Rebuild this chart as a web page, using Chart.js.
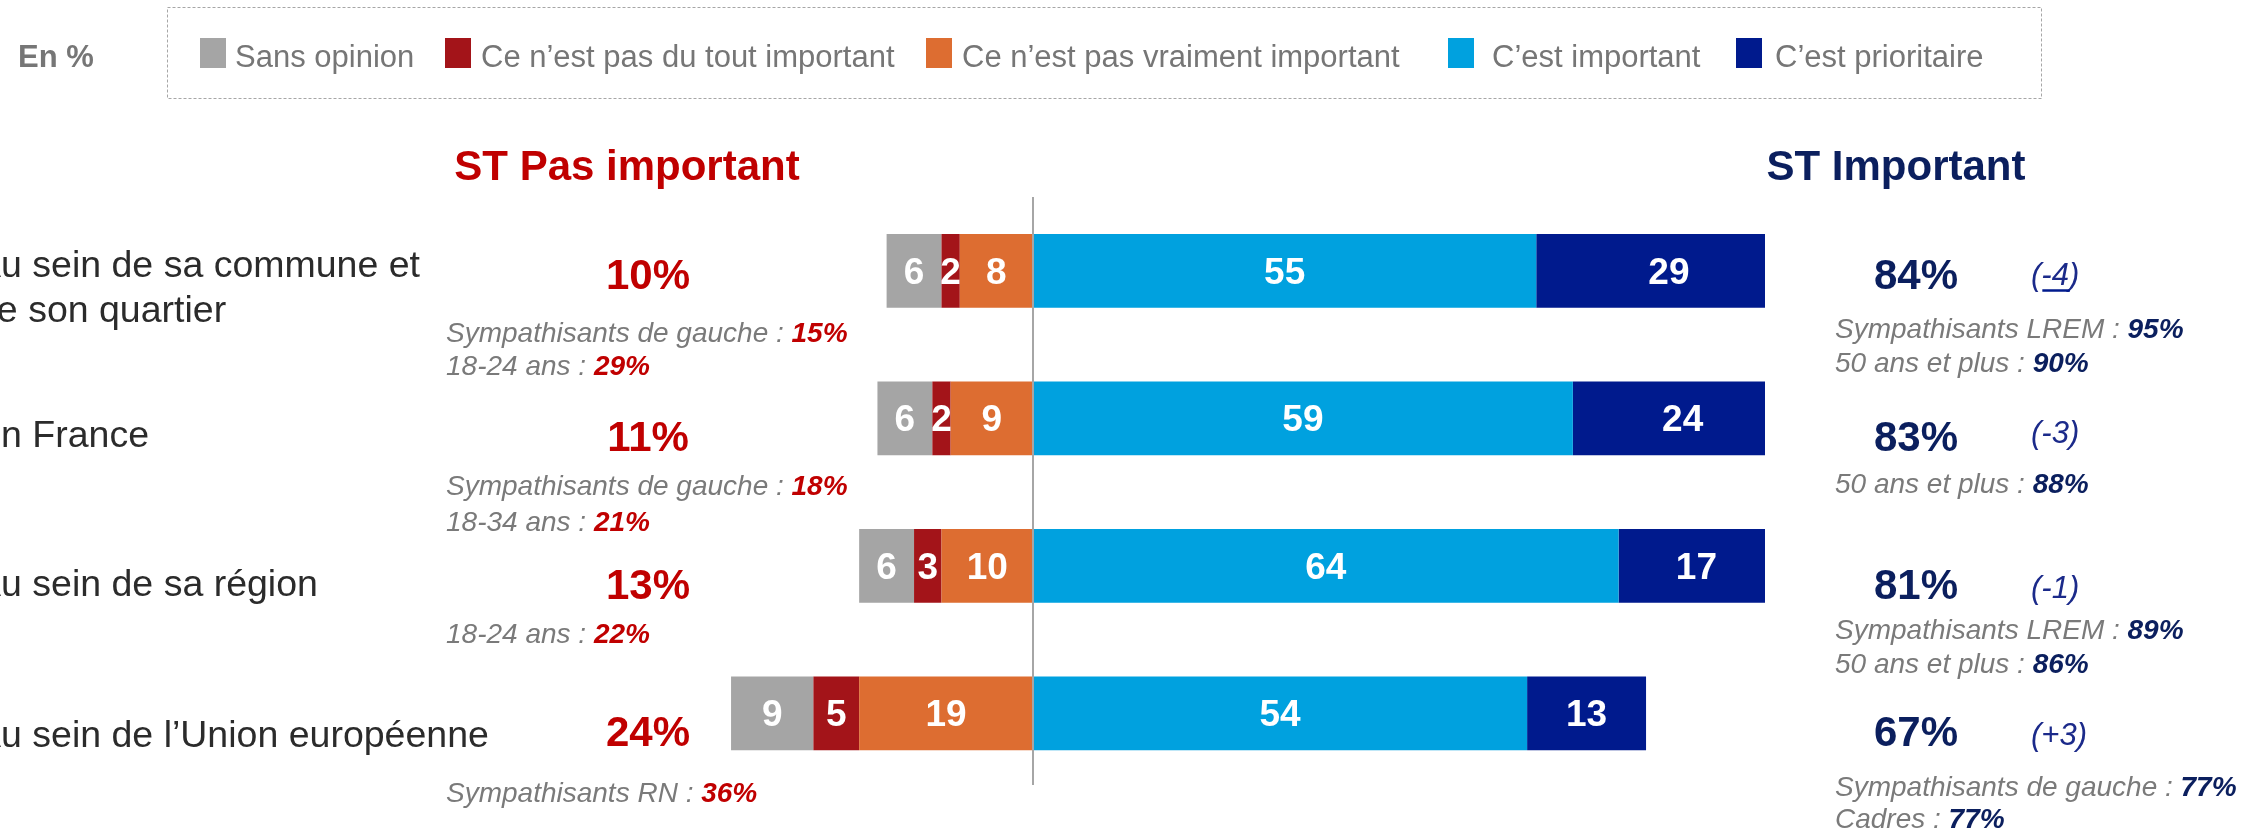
<!DOCTYPE html>
<html lang="fr">
<head>
<meta charset="utf-8">
<title>Importance accordée selon l’échelon</title>
<script src="https://cdn.jsdelivr.net/npm/chart.js@4.4.1/dist/chart.umd.min.js"></script>
<style>
  html, body { margin: 0; padding: 0; background: #ffffff; }
  canvas { display: block; }
</style>
</head>
<body>
<canvas id="chart" width="2265" height="833"></canvas>
<script>
// ---- Données (en %) ----
const categories = [
  ["Au sein de sa commune et", "de son quartier"],
  ["En France"],
  ["Au sein de sa région"],
  ["Au sein de l’Union européenne"]
];
const sansOpinion   = [6, 6, 6, 9];
const pasDuTout     = [2, 2, 3, 5];
const pasVraiment   = [8, 9, 10, 19];
const important     = [55, 59, 64, 54];
const prioritaire   = [29, 24, 17, 13];
const stPasImportant = [10, 11, 13, 24];
const stImportant    = [84, 83, 81, 67];
const evolution      = ["-4", "-3", "-1", "+3"];
const sousGroupesPasImportant = [
  [["Sympathisants de gauche", 15], ["18-24 ans", 29]],
  [["Sympathisants de gauche", 18], ["18-34 ans", 21]],
  [["18-24 ans", 22]],
  [["Sympathisants RN", 36]]
];
const sousGroupesImportant = [
  [["Sympathisants LREM", 95], ["50 ans et plus", 90]],
  [["50 ans et plus", 88]],
  [["Sympathisants LREM", 89], ["50 ans et plus", 86]],
  [["Sympathisants de gauche", 77], ["Cadres", 77]]
];
const seriesNames = ["Sans opinion", "Ce n’est pas du tout important", "Ce n’est pas vraiment important", "C’est important", "C’est prioritaire"];

// ---- Styles ----
const FONT = '"Liberation Sans", Arial, Helvetica, sans-serif';
const COLORS = {
  sans: '#A5A5A5', pasDuTout: '#A31419', pasVraiment: '#DD6D31',
  important: '#00A1DF', prioritaire: '#001A8D',
  red: '#C00000', navy: '#0B1F5E', evol: '#1B2A8A',
  grey: '#7A7A7A', label: '#2B2B2B', axis: '#A6A6A6'
};

// Negative values stack outward from zero in dataset order:
// "pas vraiment" sits next to the axis, "sans opinion" on the far left.
const datasets = [
  { label: seriesNames[2], data: pasVraiment.map(v => -v), backgroundColor: COLORS.pasVraiment },
  { label: seriesNames[1], data: pasDuTout.map(v => -v),   backgroundColor: COLORS.pasDuTout },
  { label: seriesNames[0], data: sansOpinion.map(v => -v), backgroundColor: COLORS.sans },
  { label: seriesNames[3], data: important,                backgroundColor: COLORS.important },
  { label: seriesNames[4], data: prioritaire,              backgroundColor: COLORS.prioritaire }
];
const legendOrder = [2, 1, 0, 3, 4];

// ---- Mise en page du texte autour des barres ----
const layoutText = {
  catX: -24,
  catBaselines: [[6, 51], [28.5], [30], [33.5]],
  leftPctCenter: 648,
  rightPctX: 1874,
  pctBaselines: [18.5, 33, 33, 32.75],
  evolX: 2031,
  evolBaselines: [14.5, 24.75, 32.25, 31.4],
  evolUnderline: [true, false, false, false],
  leftSubX: 446,
  leftSubBaselines: [[71, 104.25], [76.75, 112.5], [77], [88.5]],
  rightSubX: 1835,
  rightSubBaselines: [[67.25, 101], [74.5], [73.5, 107], [82.75, 115]],
  legendSwatchX: [200, 445, 926, 1448, 1736],
  legendTextX: [235, 481, 962, 1492, 1775]
};

function drawParts(ctx, x, y, parts) {
  ctx.textAlign = 'left';
  ctx.textBaseline = 'alphabetic';
  let cx = x;
  parts.forEach(p => {
    ctx.font = p.font;
    ctx.fillStyle = p.color;
    ctx.fillText(p.text, cx, y);
    cx += ctx.measureText(p.text).width;
  });
  return cx;
}

const overlay = {
  id: 'overlay',
  afterDatasetsDraw(chart) {
    const { ctx, chartArea, scales: { x } } = chart;
    ctx.save();
    // zero axis
    const x0 = x.getPixelForValue(0);
    ctx.strokeStyle = COLORS.axis;
    ctx.lineWidth = 2;
    ctx.beginPath();
    ctx.moveTo(x0, chartArea.top);
    ctx.lineTo(x0, chartArea.bottom - 2);
    ctx.stroke();

    // segment values, centred on each full segment
    ctx.font = 'bold 37px ' + FONT;
    ctx.fillStyle = '#ffffff';
    ctx.textAlign = 'center';
    ctx.textBaseline = 'alphabetic';
    chart.data.datasets.forEach((ds, di) => {
      const meta = chart.getDatasetMeta(di);
      meta.data.forEach((el, i) => {
        const v = Math.abs(ds.data[i]);
        ctx.fillText(String(v), (el.x + el.base) / 2, el.y + 13);
      });
    });
    ctx.restore();
  },
  afterDraw(chart) {
    const { ctx, scales: { y } } = chart;
    const L = layoutText;
    ctx.save();

    // legend frame
    ctx.strokeStyle = '#A6A6A6';
    ctx.lineWidth = 1;
    ctx.setLineDash([3, 2]);
    ctx.strokeRect(167.5, 7.5, 1874, 91);
    ctx.setLineDash([]);

    ctx.font = 'bold 31px ' + FONT;
    ctx.fillStyle = '#767676';
    ctx.textAlign = 'left';
    ctx.textBaseline = 'alphabetic';
    ctx.fillText('En %', 18, 67);

    legendOrder.forEach((di, k) => {
      const ds = chart.data.datasets[di];
      ctx.fillStyle = ds.backgroundColor;
      ctx.fillRect(L.legendSwatchX[k], 38, 26, 30);
      ctx.font = '31px ' + FONT;
      ctx.fillStyle = '#767676';
      ctx.fillText(ds.label, L.legendTextX[k], 67);
    });

    // column headings
    ctx.font = 'bold 42px ' + FONT;
    ctx.textAlign = 'center';
    ctx.fillStyle = COLORS.red;
    ctx.fillText('ST Pas important', 627, 180);
    ctx.fillStyle = COLORS.navy;
    ctx.fillText('ST Important', 1896, 180);

    categories.forEach((lines, i) => {
      const cy = y.getPixelForValue(i);

      // category label
      ctx.font = '37.5px ' + FONT;
      ctx.fillStyle = COLORS.label;
      ctx.textAlign = 'left';
      lines.forEach((t, j) => ctx.fillText(t, L.catX, cy + L.catBaselines[i][j]));

      // totals
      ctx.font = 'bold 42px ' + FONT;
      ctx.textAlign = 'center';
      ctx.fillStyle = COLORS.red;
      ctx.fillText(stPasImportant[i] + '%', L.leftPctCenter, cy + L.pctBaselines[i]);
      ctx.textAlign = 'left';
      ctx.fillStyle = COLORS.navy;
      ctx.fillText(stImportant[i] + '%', L.rightPctX, cy + L.pctBaselines[i]);

      // evolution
      ctx.font = 'italic 31px ' + FONT;
      ctx.fillStyle = COLORS.evol;
      const ey = cy + L.evolBaselines[i];
      ctx.fillText('(' + evolution[i] + ')', L.evolX, ey);
      if (L.evolUnderline[i]) {
        const wOpen = ctx.measureText('(').width;
        const wVal = ctx.measureText(evolution[i]).width;
        ctx.fillStyle = COLORS.prioritaire;
        ctx.fillRect(L.evolX + wOpen + 1, ey + 4, wVal, 2.5);
      }

      // sub-groups
      sousGroupesPasImportant[i].forEach(([name, val], j) => {
        drawParts(ctx, L.leftSubX, cy + L.leftSubBaselines[i][j], [
          { text: name + ' : ', font: 'italic 28px ' + FONT, color: COLORS.grey },
          { text: val + '%', font: 'italic bold 28px ' + FONT, color: COLORS.red }
        ]);
      });
      sousGroupesImportant[i].forEach(([name, val], j) => {
        drawParts(ctx, L.rightSubX, cy + L.rightSubBaselines[i][j], [
          { text: name + ' : ', font: 'italic 28px ' + FONT, color: COLORS.grey },
          { text: val + '%', font: 'italic bold 28px ' + FONT, color: COLORS.navy }
        ]);
      });
    });
    ctx.restore();
  }
};

new Chart(document.getElementById('chart'), {
  type: 'bar',
  data: { labels: categories.map(c => c.join(' ')), datasets },
  options: {
    indexAxis: 'y',
    responsive: false,
    devicePixelRatio: 1,
    animation: false,
    layout: { padding: { left: 667, right: 500, top: 197, bottom: 46 } },
    datasets: { bar: { categoryPercentage: 1, barPercentage: 0.5, borderWidth: 0 } },
    scales: {
      x: { type: 'linear', stacked: true, min: -40, max: 80, display: false },
      y: { stacked: true, display: false }
    },
    plugins: { legend: { display: false }, tooltip: { enabled: false }, title: { display: false } }
  },
  plugins: [overlay]
});
</script>
</body>
</html>
